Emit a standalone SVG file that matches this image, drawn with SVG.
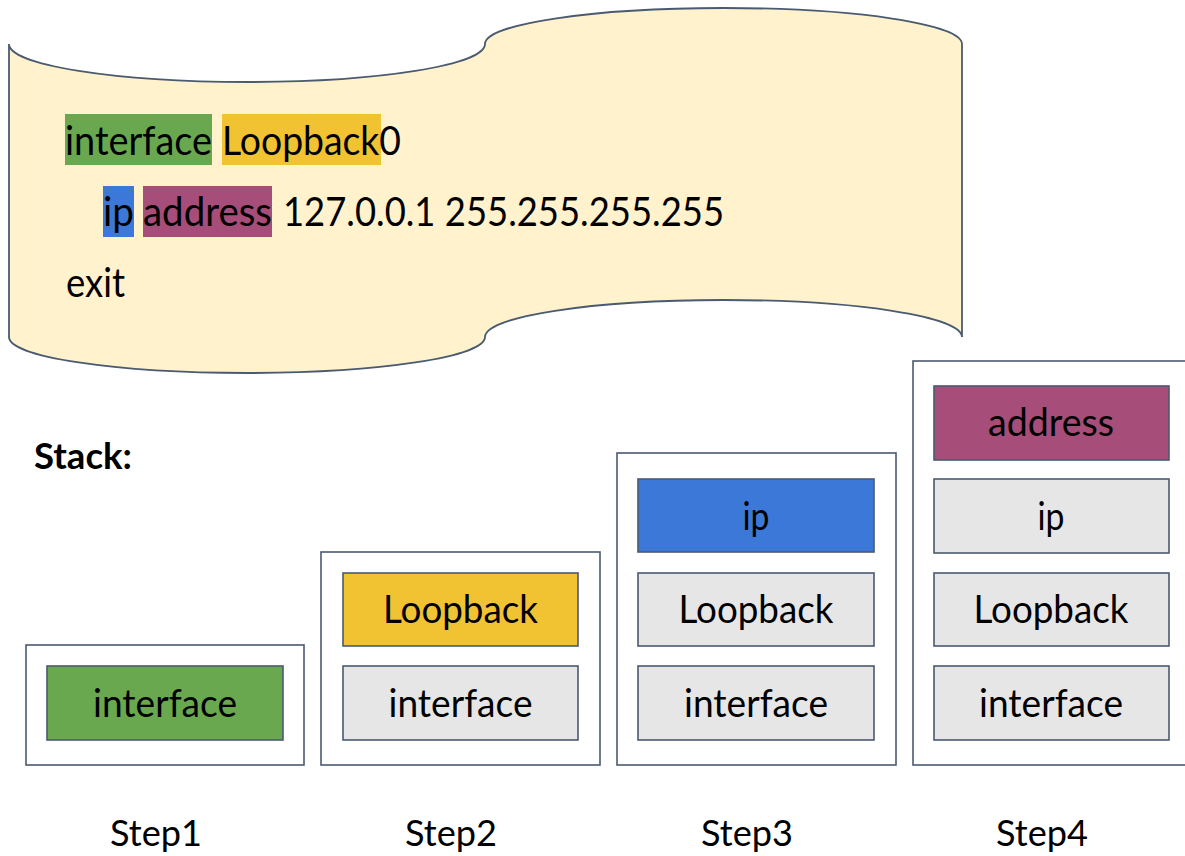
<svg xmlns="http://www.w3.org/2000/svg" width="1185" height="856" viewBox="0 0 1185 856">
  <style>
    .t { font-family: Lato, "Open Sans", "Liberation Sans", sans-serif; fill: #000; }
    .code { font-size: 40px; }
    .lbl { font-size: 38px; text-anchor: middle; }
    .step { font-size: 36px; text-anchor: middle; }
    .outer { fill: #ffffff; stroke: #4a5a70; stroke-width: 1.6; }
    .cell { stroke: #4a5a70; stroke-width: 1.6; }
    .gray { fill: #e7e6e6; }
    .green { fill: #6aa84f; }
    .yellow { fill: #f1c232; }
    .blue { fill: #3c78d8; }
    .magenta { fill: #a64d79; }
  </style>

  <!-- wavy banner holding the config snippet -->
  <g id="config">
    <path d="M9,44 A238,38 0 0 0 485,44 A238.5,36 0 0 1 962,44 L962,337 A238.5,37 0 0 0 485,337 A238,36 0 0 1 9,337 Z"
          fill="#fff2cc" stroke="#4a5a70" stroke-width="1.8"/>
    <rect class="green" x="65" y="114" width="147" height="51"/>
    <rect class="yellow" x="222" y="114" width="159" height="51"/>
    <rect class="blue" x="103" y="186" width="31" height="51"/>
    <rect class="magenta" x="143" y="186" width="129" height="51"/>
    <text class="t code" x="65" y="155" textLength="147" lengthAdjust="spacingAndGlyphs">interface</text>
    <text class="t code" x="222" y="155" textLength="179" lengthAdjust="spacingAndGlyphs">Loopback0</text>
    <text class="t code" x="103" y="226" textLength="31" lengthAdjust="spacingAndGlyphs">ip</text>
    <text class="t code" x="143" y="226" textLength="129" lengthAdjust="spacingAndGlyphs">address</text>
    <text class="t code" x="283" y="226" textLength="441" lengthAdjust="spacingAndGlyphs">127.0.0.1 255.255.255.255</text>
    <text class="t code" x="66" y="297" textLength="59" lengthAdjust="spacingAndGlyphs">exit</text>
  </g>

  <g id="stack-title">
    <text class="t" x="34" y="469" font-size="37" font-weight="bold" textLength="98" lengthAdjust="spacingAndGlyphs">Stack:</text>
  </g>

  <!-- Step 1 -->
  <g id="step1">
    <rect class="outer" x="26" y="645" width="278" height="120"/>
    <rect class="cell green" x="47" y="666" width="236" height="74"/>
    <text class="t lbl" x="165" y="717" textLength="144" lengthAdjust="spacingAndGlyphs">interface</text>
    <text class="t step" x="156" y="846" textLength="92" lengthAdjust="spacingAndGlyphs">Step1</text>
  </g>

  <!-- Step 2 -->
  <g id="step2">
    <rect class="outer" x="321" y="552" width="279" height="213"/>
    <rect class="cell yellow" x="343" y="573" width="235" height="73"/>
    <text class="t lbl" x="460.5" y="623" textLength="155" lengthAdjust="spacingAndGlyphs">Loopback</text>
    <rect class="cell gray" x="343" y="666" width="235" height="74"/>
    <text class="t lbl" x="460.5" y="717" textLength="144" lengthAdjust="spacingAndGlyphs">interface</text>
    <text class="t step" x="451" y="846" textLength="92" lengthAdjust="spacingAndGlyphs">Step2</text>
  </g>

  <!-- Step 3 -->
  <g id="step3">
    <rect class="outer" x="617" y="453" width="279" height="312"/>
    <rect class="cell blue" x="638" y="479" width="236" height="73"/>
    <text class="t lbl" x="756" y="530" textLength="27" lengthAdjust="spacingAndGlyphs">ip</text>
    <rect class="cell gray" x="638" y="573" width="236" height="73"/>
    <text class="t lbl" x="756" y="623" textLength="155" lengthAdjust="spacingAndGlyphs">Loopback</text>
    <rect class="cell gray" x="638" y="666" width="236" height="74"/>
    <text class="t lbl" x="756" y="717" textLength="144" lengthAdjust="spacingAndGlyphs">interface</text>
    <text class="t step" x="747" y="846" textLength="92" lengthAdjust="spacingAndGlyphs">Step3</text>
  </g>

  <!-- Step 4 -->
  <g id="step4">
    <rect class="outer" x="913" y="361" width="290" height="404"/>
    <rect class="cell magenta" x="934" y="386" width="235" height="74"/>
    <text class="t lbl" x="1051" y="436" textLength="126" lengthAdjust="spacingAndGlyphs">address</text>
    <rect class="cell gray" x="934" y="479" width="235" height="74"/>
    <text class="t lbl" x="1051" y="530" textLength="27" lengthAdjust="spacingAndGlyphs">ip</text>
    <rect class="cell gray" x="934" y="573" width="235" height="73"/>
    <text class="t lbl" x="1051" y="623" textLength="155" lengthAdjust="spacingAndGlyphs">Loopback</text>
    <rect class="cell gray" x="934" y="666" width="235" height="74"/>
    <text class="t lbl" x="1051" y="717" textLength="144" lengthAdjust="spacingAndGlyphs">interface</text>
    <text class="t step" x="1042" y="846" textLength="92" lengthAdjust="spacingAndGlyphs">Step4</text>
  </g>

  <g id="connectors"></g>
</svg>
